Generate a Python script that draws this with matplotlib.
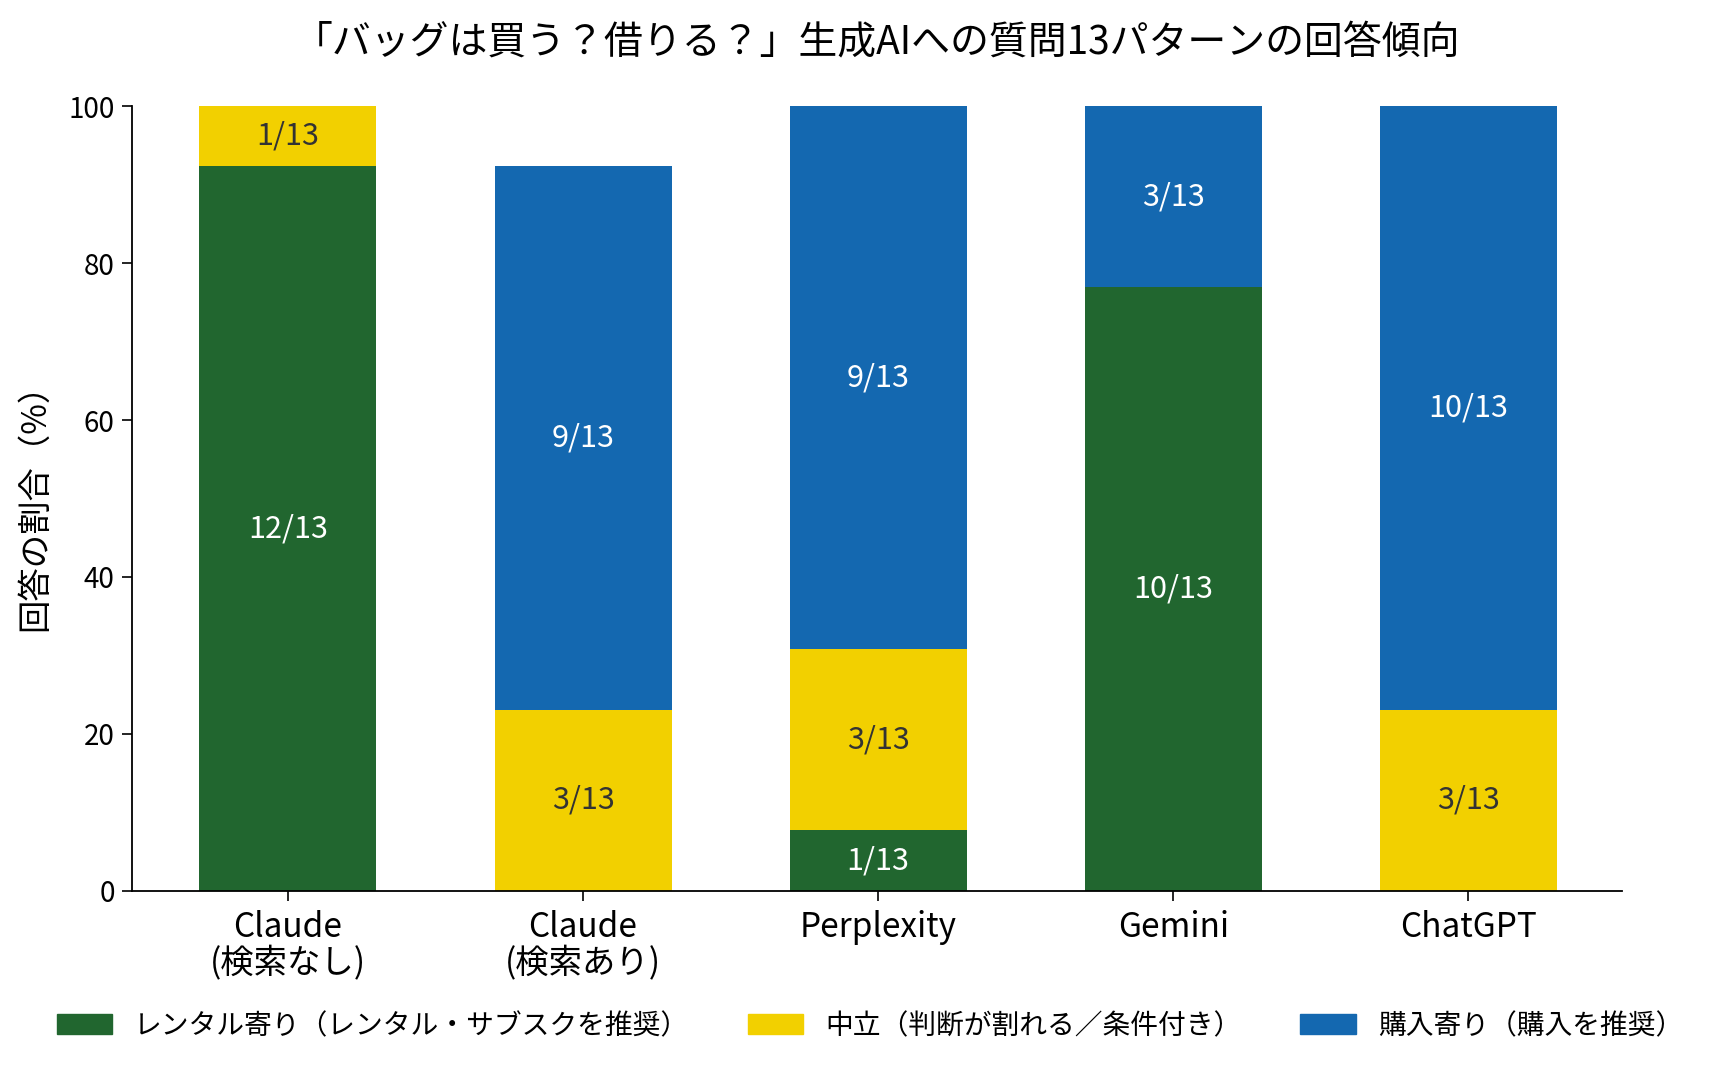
import numpy as np
import matplotlib.pyplot as plt
from matplotlib.patches import Patch

plt.rcParams['font.family'] = ['Noto Sans CJK JP', 'DejaVu Sans']

# Data: answer counts out of 13 questions
TOTAL = 13
models = ["Claude\n(検索なし)", "Claude\n(検索あり)", "Perplexity", "Gemini", "ChatGPT"]
rental = [12, 0, 1, 10, 0]
neutral = [1, 3, 3, 0, 3]
purchase = [0, 9, 9, 3, 10]

series_names = ["レンタル寄り（レンタル・サブスクを推奨）", "中立（判断が割れる／条件付き）", "購入寄り（購入を推奨）"]
colors = ["#21662f", "#f2d000", "#1468b0"]
text_colors = ["white", "#333333", "white"]

fig = plt.figure(figsize=(17.19, 10.72), dpi=100)
ax = fig.add_axes([0.0765, 0.169, 0.867, 0.732])

x = np.arange(len(models))
bottom = np.zeros(len(models))
for counts, name, col, tcol in zip([rental, neutral, purchase], series_names, colors, text_colors):
    vals = np.array(counts) / TOTAL * 100
    ax.bar(x, vals, width=0.6, bottom=bottom, color=col, label=name)
    for xi, c, v, b in zip(x, counts, vals, bottom):
        if c > 0:
            ax.text(xi, b + v / 2, f"{c}/{TOTAL}", ha="center", va="center",
                    color=tcol, fontsize=22)
    bottom += vals

ax.set_xlim(-0.53, 4.52)
ax.set_ylim(0, 100)
ax.set_xticks(x)
ax.set_xticklabels(models, fontsize=24, linespacing=1.05)
ax.set_yticks([0, 20, 40, 60, 80, 100])
ax.tick_params(axis="y", labelsize=20, length=7, width=1.2, pad=5)
ax.tick_params(axis="x", length=7, width=1.2, pad=7)
ax.set_ylabel("回答の割合（%）", fontsize=24, labelpad=12)
ax.spines["top"].set_visible(False)
ax.spines["right"].set_visible(False)
ax.spines["left"].set_linewidth(1.3)
ax.spines["bottom"].set_linewidth(1.3)

ax.set_title("「バッグは買う？借りる？」生成AIへの質問13パターンの回答傾向", fontsize=28, pad=38)

handles = [Patch(color=c, label=n) for c, n in zip(colors, series_names)]
fig.legend(handles=handles, loc="center", bbox_to_anchor=(0.506, 0.043), ncol=3,
           frameon=False, fontsize=20, handlelength=2.0, handleheight=0.7,
           columnspacing=2.1, handletextpad=0.8)

fig.savefig("out.png", dpi=100)
